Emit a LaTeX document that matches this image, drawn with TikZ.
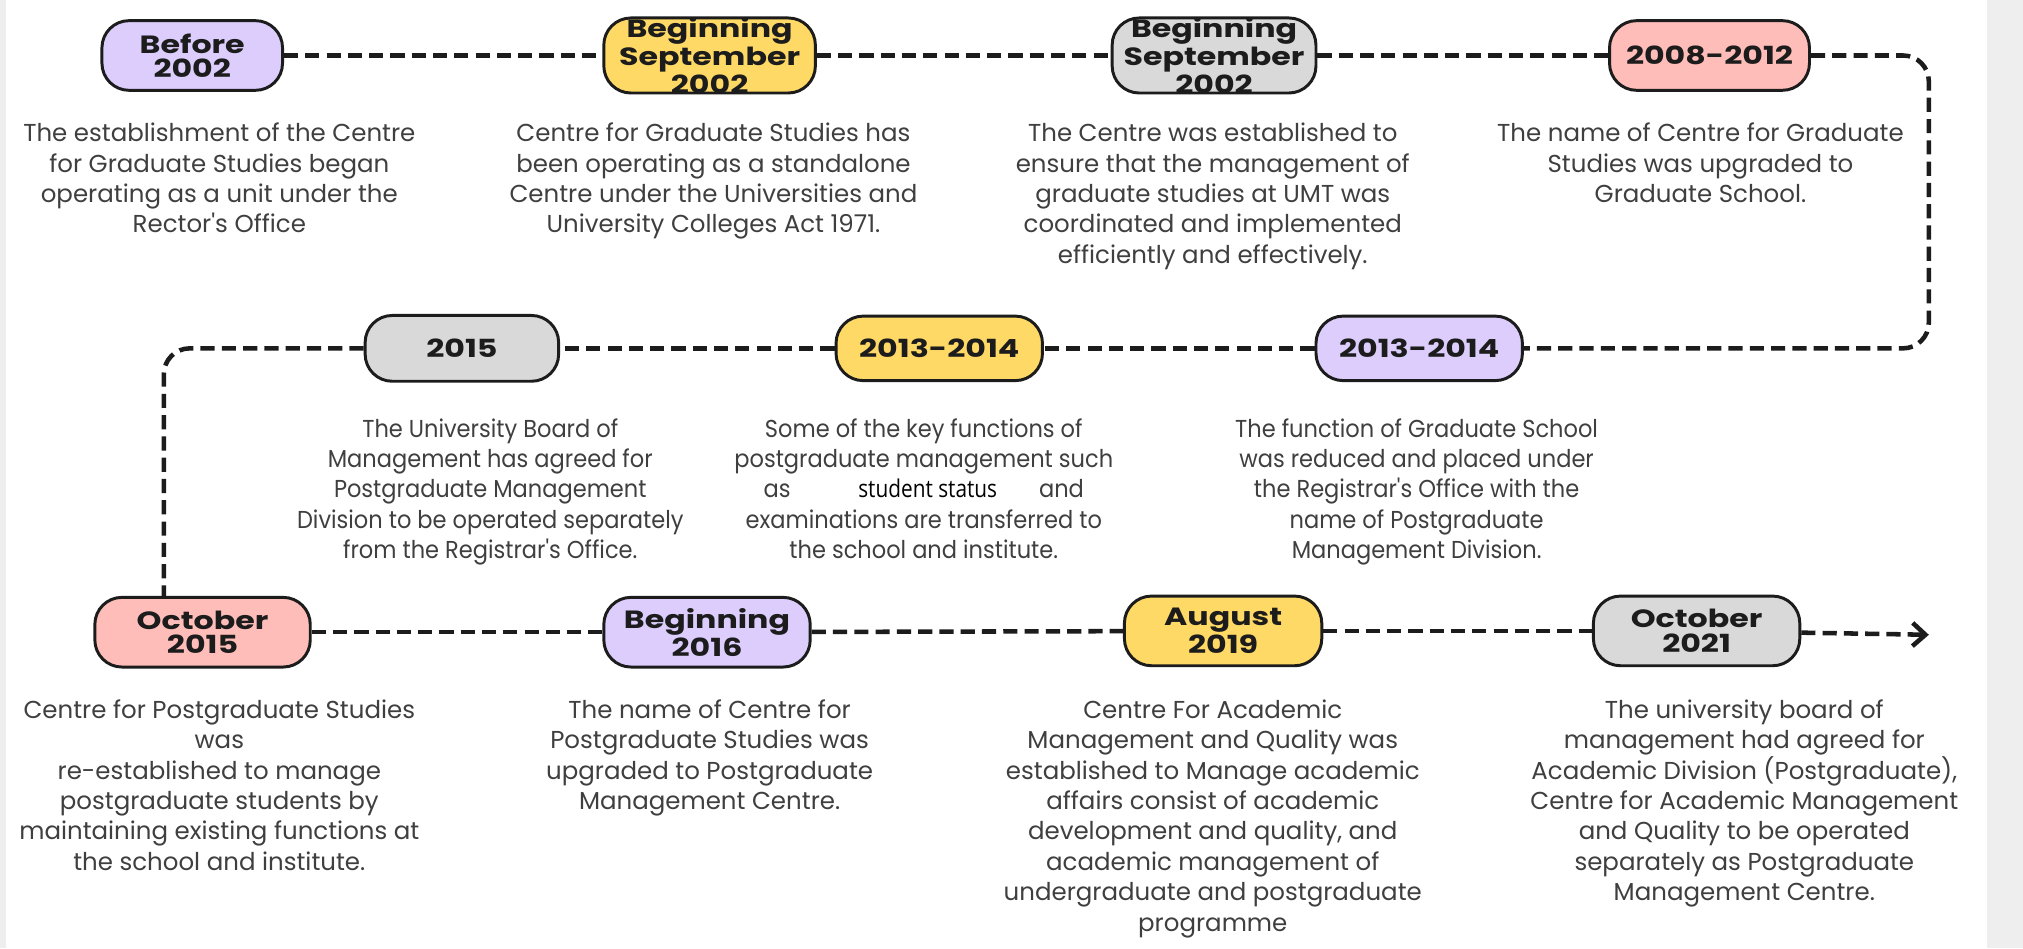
\documentclass[tikz,border=0pt]{standalone}
\usepackage{fontspec}
\setmainfont{Poppins}
\newfontfamily\poppins{Poppins}
\newfontfamily\poppinswide{Poppins}[FakeStretch=1.27]
\newfontfamily\poppinsnarrow{Poppins}[FakeStretch=0.92]
\newfontfamily\opensans{Open Sans}[FakeStretch=0.85]
\usetikzlibrary{arrows.meta,positioning}

\definecolor{ink}{HTML}{1C1C1C}
\definecolor{notegrey}{HTML}{3F3F3F}
\definecolor{lilac}{HTML}{DCCDFD}
\definecolor{sun}{HTML}{FFD966}
\definecolor{stone}{HTML}{D9D9D9}
\definecolor{salmon}{HTML}{FFBDB9}
\definecolor{edgegrey}{HTML}{EEEEEE}

\newcommand{\tldatefont}{\poppinswide\bfseries\fontsize{11}{10.8}\selectfont}
\newcommand{\tldatetight}{\poppinswide\bfseries\fontsize{11}{9.4}\selectfont}
\newcommand{\tlnotefont}{\poppins\fontsize{10.8}{13.4}\selectfont}
\newcommand{\tlnotenarrow}{\poppinsnarrow\fontsize{10.8}{13.4}\selectfont}

\begin{document}
\begin{tikzpicture}[x=0.02cm,y=-0.02cm]

                    \tikzset{datebox/.style = {shape=rectangle,rounded corners=0.42cm,draw=ink,line width=1.3pt,
                             minimum width=3.1cm,minimum height=1.08cm,inner sep=0pt,align=center,
                             font=\tldatefont,text=ink}}
                    \tikzset{note/.style = {anchor=north,align=center,inner sep=0pt,font=\tlnotefont,text=notegrey}}
                    \tikzset{link/.style = {draw=ink,line width=2pt,dash pattern=on 0.22cm off 0.11cm,rounded corners=0.4cm}}

                    % page
                    \useasboundingbox (0,0) rectangle (1568,735);
                    \fill[white] (0,0) rectangle (1568,735);
                    \fill[edgegrey] (1540,0) rectangle (1568,735);
                    \fill[edgegrey] (0,0) rectangle (5,735);

                    % dates
                    \node[datebox,fill=lilac,minimum width=2.8cm] (d1) at (149,43) {Before\\2002};
                    \node[datebox,fill=sun,minimum width=3.28cm,font=\tldatetight] (d2) at (550,43) {Beginning\\September\\2002};
                    \node[datebox,fill=stone,minimum width=3.16cm,font=\tldatetight] (d3) at (941,43) {Beginning\\September\\2002};
                    \node[datebox,fill=salmon] (d4) at (1325,43) {2008-2012};
                    \node[datebox,fill=lilac,minimum width=3.2cm,minimum height=1cm] (d5) at (1100,270) {2013-2014};
                    \node[datebox,fill=sun,minimum width=3.2cm,minimum height=1cm] (d6) at (728,270) {2013-2014};
                    \node[datebox,fill=stone,minimum width=3cm,minimum height=1.02cm] (d7) at (358,270) {2015};
                    \node[datebox,fill=salmon,minimum width=3.34cm] (d8) at (157,490) {October\\2015};
                    \node[datebox,fill=lilac,minimum width=3.2cm] (d9) at (548,490) {Beginning\\2016};
                    \node[datebox,fill=sun,minimum width=3.06cm] (d10) at (948,489) {August\\2019};
                    \node[datebox,fill=stone,minimum width=3.2cm] (d11) at (1315,489) {October\\2021};

                    \coordinate (c1) at (1495,270);
                    \coordinate (c2) at (127,463);
                    \coordinate (c3) at (1495,492);

                    % timeline
                    \draw[link] (d1) -- (d2);
                    \draw[link] (d2) -- (d3);
                    \draw[link] (d3) -- (d4);
                    \draw[link] (d4) -| (c1) -- (d5);
                    \draw[link] (d5) -- (d6);
                    \draw[link] (d6) -- (d7);
                    \draw[link] (d7) -| (c2);
                    \draw[link] (d8) -- (d9);
                    \draw[link] (d9) -- (d10);
                    \draw[link] (d10) -- (d11);
                    \draw[link,-{Straight Barb[length=0.2cm,width=0.36cm,line width=2pt]}] (d11) -- (c3);

                    % notes
                    \node[note] (t1) at (170,95) {The establishment of the Centre\\for Graduate Studies began\\operating as a unit under the\\Rector's Office};
                    \node[note] (t2) at (553,95) {Centre for Graduate Studies has\\been operating as a standalone\\Centre under the Universities and\\University Colleges Act 1971.};
                    \node[note] (t3) at (940,95) {The Centre was established to\\ensure that the management of\\graduate studies at UMT was\\coordinated and implemented\\efficiently and effectively.};
                    \node[note] (t4) at (1318,95) {The name of Centre for Graduate\\Studies was upgraded to\\Graduate School.};
                    \node[note,font=\tlnotenarrow] (t5) at (1098,324) {The function of Graduate School\\was reduced and placed under\\the Registrar's Office with the\\name of Postgraduate\\Management Division.};
                    \node[note,font=\tlnotenarrow] (t6) at (716,324) {Some of the key functions of\\postgraduate management such\\as\hspace{1.05cm}{\opensans\color{black}student status}\hspace{0.65cm}and\\examinations are transferred to\\the school and institute.};
                    \node[note,font=\tlnotenarrow] (t7) at (380,324) {The University Board of\\Management has agreed for\\Postgraduate Management\\Division to be operated separately\\from the Registrar's Office.};
                    \node[note] (t8) at (170,542) {Centre for Postgraduate Studies\\was\\re-established to manage\\postgraduate students by\\maintaining existing functions at\\the school and institute.};
                    \node[note] (t9) at (550,542) {The name of Centre for\\Postgraduate Studies was\\upgraded to Postgraduate\\Management Centre.};
                    \node[note] (t10) at (940,542) {Centre For Academic\\Management and Quality was\\established to Manage academic\\affairs consist of academic\\development and quality, and\\academic management of\\undergraduate and postgraduate\\programme};
                    \node[note] (t11) at (1352,542) {The university board of\\management had agreed for\\Academic Division (Postgraduate),\\Centre for Academic Management\\and Quality to be operated\\separately as Postgraduate\\Management Centre.};

                \end{tikzpicture}
\end{document}
